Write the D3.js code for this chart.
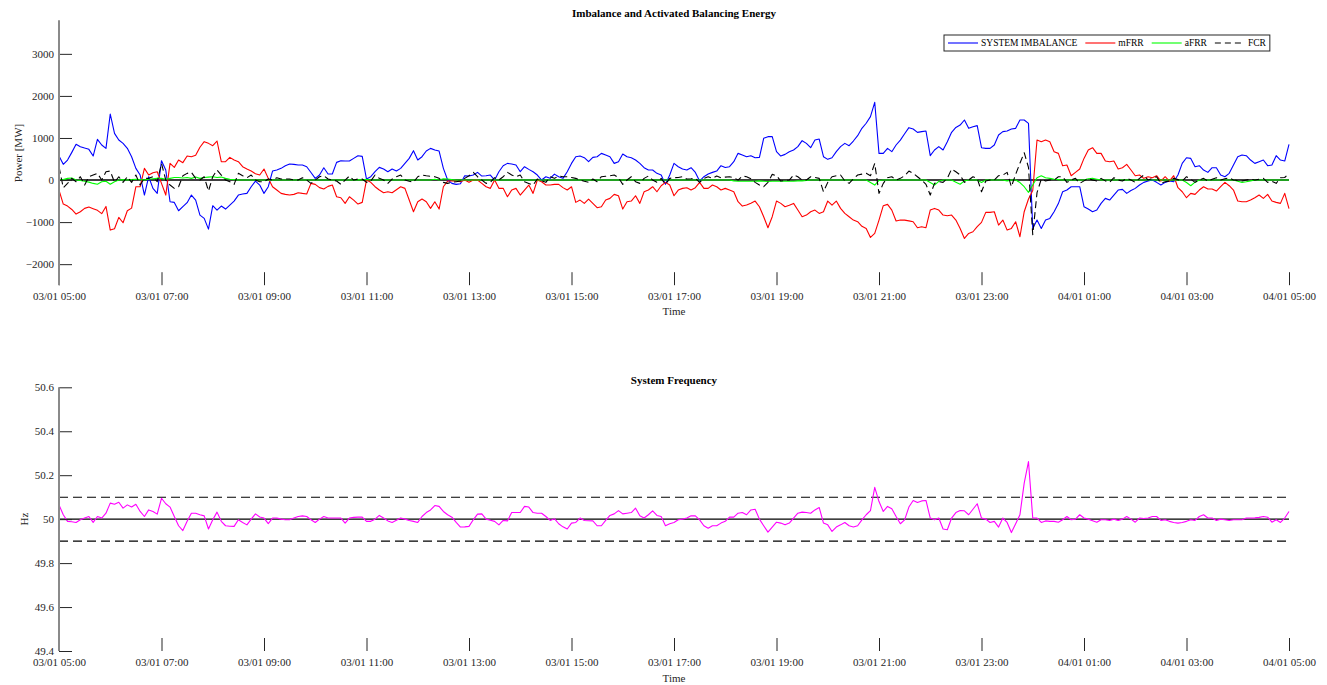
<!DOCTYPE html>
<html>
<head>
<meta charset="utf-8">
<script src="https://cdn.jsdelivr.net/npm/d3@7/dist/d3.min.js"></script>
<style>
  html, body { margin: 0; padding: 0; background: #ffffff; }
  svg text { font-family: "Liberation Serif", "Times New Roman", serif; }
</style>
</head>
<body>
<svg id="chart" width="1327" height="685"></svg>
<script>
// 5-minute samples from 03/01 05:00 to 04/01 05:00 (289 points)
const timeLabels = ["03/01 05:00", "03/01 07:00", "03/01 09:00", "03/01 11:00", "03/01 13:00",
  "03/01 15:00", "03/01 17:00", "03/01 19:00", "03/01 21:00", "03/01 23:00",
  "04/01 01:00", "04/01 03:00", "04/01 05:00"];
const samplesPerLabel = 24;

const powerTicks = [-2000, -1000, 0, 1000, 2000, 3000];
const powerDomain = [-2500, 3800];
const freqTicks = [49.4, 49.6, 49.8, 50, 50.2, 50.4, 50.6];
const freqDomain = [49.4, 50.6];
const freqNominal = 50;
const freqBand = [49.9, 50.1];

const seriesNames = ["SYSTEM IMBALANCE", "mFRR", "aFRR", "FCR"];

// System imbalance [MW]
const imbalance = [
  571, 373, 476, 658, 849, 793, 760, 730, 571, 967, 833, 753,
  1570, 1110, 952, 872, 753, 555, 278, 119, -357, 79, -198, -317,
  460, 238, -515, -531, -730, -634, -539, -357, -476, -833, -912, -1166,
  -610, -714, -618, -690, -595, -500, -357, -333, -317, -159, -24, -119,
  -317, -159, 214, 238, 278, 341, 381, 373, 357, 357, 317, 180,
  40, 119, 293, 143, 143, 420, 460, 452, 452, 515, 579, 563,
  24, 79, 198, 301, 262, 198, 262, 214, 278, 396, 515, 698,
  476, 555, 690, 753, 714, 690, 278, 0, -79, -103, -87, 103,
  95, 119, 182, 95, 103, 119, 0, 198, 341, 396, 381, 357,
  198, 317, 254, 198, 119, 0, 79, 40, 140, 79, 40, 198,
  396, 555, 571, 531, 436, 539, 555, 634, 595, 555, 396, 436,
  619, 555, 531, 476, 396, 293, 238, 238, 159, 119, -103, 119,
  396, 317, 262, 238, 293, 182, -24, 79, 143, 182, 214, 341,
  300, 317, 436, 634, 595, 555, 579, 531, 539, 991, 1031, 1031,
  674, 571, 610, 674, 714, 793, 936, 872, 769, 952, 975, 555,
  492, 531, 674, 793, 872, 817, 928, 1055, 1229, 1350, 1507, 1848,
  634, 634, 753, 674, 833, 950, 1100, 1245, 1213, 1134, 1150, 1166,
  579, 714, 793, 714, 912, 1134, 1250, 1308, 1427, 1229, 1269, 1293,
  769, 753, 753, 833, 1071, 1150, 1166, 1213, 1229, 1427, 1427, 1348,
  -1150, -952, -1150, -952, -912, -753, -560, -278, -238, -159, -159, -159,
  -634, -690, -753, -714, -555, -436, -476, -357, -238, -222, -317, -250,
  -198, -119, -55, -24, 0, -55, -119, -55, -24, -40, 119, 396,
  531, 515, 317, 341, 238, 182, 293, 293, 119, 79, 159, 357,
  555, 595, 579, 476, 396, 436, 476, 341, 357, 579, 476, 452,
  849
];

// Activated mFRR [MW]
const mfrr = [
  -238, -571, -619, -700, -809, -753, -674, -643, -680, -720, -800, -627,
  -1190, -1158, -888, -1015, -730, -667, -159, -159, 278, 119, 175, 198,
  -79, -357, 396, 301, 476, 413, 571, 555, 587, 780, 912, 872,
  817, 928, 436, 436, 539, 476, 436, 317, 262, 214, 150, 119,
  262, 40, -159, -238, -317, -340, -357, -341, -301, -317, -330, -79,
  -103, -180, -214, -150, -119, -397, -420, -555, -397, -476, -571, -531,
  0, -55, -159, -238, -301, -278, -301, -230, -159, -198, -476, -753,
  -515, -452, -515, -674, -515, -690, -159, -24, -24, -24, -40, 0,
  -55, 0, 0, -80, -159, -198, 0, -198, -198, -397, -238, -198,
  -357, -238, -119, -317, 0, -40, -119, -119, -103, -103, -180, -238,
  -159, -531, -476, -555, -452, -555, -658, -634, -476, -436, -341, -373,
  -690, -515, -500, -373, -555, -278, -238, -159, -278, -135, -55, -119,
  -373, -238, -198, -182, -238, -182, -55, -198, -198, -119, -159, -238,
  -198, -238, -278, -515, -619, -595, -550, -500, -634, -872, -1134, -872,
  -500, -555, -634, -600, -555, -714, -872, -833, -753, -714, -793, -753,
  -500, -595, -500, -674, -793, -872, -952, -991, -1100, -1150, -1364, -1269,
  -952, -610, -579, -714, -975, -952, -952, -970, -991, -1134, -1110, -1134,
  -714, -674, -714, -833, -848, -833, -952, -1150, -1388, -1269, -1229, -1110,
  -1007, -769, -769, -753, -1071, -952, -1190, -1150, -991, -1348, -753, -450,
  -250, 952, 912, 952, 912, 674, 634, 341, 357, 103, 182, 262,
  515, 714, 769, 634, 634, 452, 436, 452, 262, 293, 373, 238,
  103, 119, 40, 79, 55, 103, -24, 79, -24, 103, -182, -278,
  -420, -317, -341, -238, -159, -214, -214, -262, -159, -55, -135, -238,
  -500, -515, -515, -476, -420, -357, -436, -341, -500, -531, -555, -317,
  -680
];

// Activated aFRR [MW]
const afrr = [
  0, 10, 40, 50, 0, -10, -30, -50, -80, -100, -40, -30,
  -100, -40, 0, 10, 0, 10, 20, 10, 0, 20, 30, 40,
  40, 20, 40, 60, 60, 50, 60, 40, 70, 40, 60, 70,
  80, 60, 70, 40, 20, 10, 0, 0, 0, 0, 0, 0,
  0, 0, 0, 0, 0, 0, 0, 0, 0, 0, 0, 0,
  0, 0, 0, 0, 0, 0, 0, 0, 0, 0, 10, 0,
  15, 0, 0, 0, 0, 0, 0, 0, 0, 0, 0, 0,
  0, 0, 0, 0, 20, 0, 30, 25, 10, 0, 0, 0,
  0, 0, 0, 0, 0, 0, 0, 0, 0, 0, 0, 0,
  0, 0, 0, 0, 0, 0, 0, 0, 0, 0, 0, 0,
  0, 0, 0, 0, 0, 0, 0, 0, 0, 0, 0, 0,
  0, 0, 0, 0, 0, 0, 0, 0, 0, 0, 0, 0,
  0, 0, 0, 0, 0, 0, 0, 0, 0, 0, 0, 0,
  0, 0, -20, -30, -30, -30, -30, -30, -20, -30, -35, -30,
  -30, -30, -30, -30, -30, -20, -20, -10, 0, 0, 0, 0,
  0, 0, 0, 0, 0, 0, 0, 0, 0, 0, -60, -120,
  -10, 0, 0, 0, 0, 0, 0, 0, 0, 0, 0, 0,
  -60, -119, -30, 0, 0, 0, -50, -100, -20, 0, 0, 0,
  -60, 0, 0, 0, 0, 0, -20, 0, 0, -60, -159, -293,
  -119, 55, 103, 55, 40, 20, 10, 0, 0, 0, 0, 0,
  0, 30, 40, 20, 0, 0, 0, 0, 0, 0, 0, 0,
  0, 0, 0, 0, 0, 0, 0, 0, 0, 0, 0, 0,
  -60, -135, -50, 0, 0, 0, 0, 0, 0, 0, 0, 0,
  -30, -55, -40, -20, 0, 0, 0, 0, 0, 0, 0, 0,
  0
];

// Activated FCR [MW]
const fcr = [
  317, -182, -80, 40, -40, 79, -119, 79, 120, 159, 0, 198,
  214, -55, 79, -55, 79, -55, 119, -119, 40, 40, 79, -40,
  396, 0, -119, -198, -159, 100, 159, 182, 40, 0, 79, -262,
  79, 238, 119, 0, -40, -103, 159, 103, 55, 119, 0, -40,
  -40, 24, 0, 55, 24, 24, 24, 0, 0, 55, 0, -79,
  0, 79, 103, 24, 0, -24, -103, 0, 95, 0, 24, 24,
  -55, -24, 119, 40, 0, -79, 24, 80, 119, 0, -30, -55,
  79, 119, 103, 90, 79, 40, -55, -79, -55, -40, -24, 40,
  100, 182, 79, 0, -79, -55, 55, 0, 79, 182, 120, 79,
  119, -40, -80, -119, 24, -20, -55, 79, 40, 95, 80, 79,
  60, 40, 0, -30, -55, 24, -40, 79, 90, 103, 119, 55,
  -103, 0, 79, -40, -79, 40, 95, 0, -55, 40, -103, 40,
  55, 60, 79, 24, 30, 40, -55, 40, 79, 40, 95, 55,
  70, 79, 55, 0, 95, 79, 30, -55, -119, -159, -55, 135,
  103, -24, -10, 0, 119, 79, 0, 0, 79, 60, 40, -278,
  -55, 79, 100, 119, -20, -79, 30, 119, 140, 159, 103, 396,
  -317, -79, 55, 79, 0, 40, 103, 214, 159, 79, 0, -103,
  -357, -79, -40, -55, 40, 262, 198, 119, -55, 0, 79, 40,
  -278, -24, 0, 0, 103, 119, 182, -159, 135, 400, 650, 300,
  -1300, -300, 24, -24, 0, 0, 79, 79, -55, 0, 40, -79,
  -20, 40, 0, -24, 40, -20, -55, 55, 0, -24, 40, 0,
  -55, 40, 119, 0, 40, 79, -79, -40, -24, 40, 10, -24,
  79, 20, -55, 0, 40, -24, 20, 55, 0, 30, 55, 0,
  -10, -24, 0, 24, 0, 20, 40, -55, -30, -79, 55, 60,
  159
];

// System frequency [Hz]
const frequency = [
  50.065, 50.02, 49.99, 49.988, 49.985, 49.997, 50.005, 50.012, 49.985, 50.012, 50.005, 50.027,
  50.073, 50.068, 50.077, 50.05, 50.065, 50.055, 50.068, 50.035, 50.012, 50.042, 50.035, 50.023,
  50.095, 50.07, 50.055, 50.012, 49.97, 49.948, 49.99, 50.027, 50.027, 50.02, 50.015, 49.955,
  49.997, 50.032, 49.99, 49.97, 49.968, 49.967, 49.997, 49.985, 49.974, 50.0, 50.024, 50.01,
  50.005, 49.98, 50.005, 50.005, 50.0, 49.997, 49.997, 50.005, 50.012, 50.015, 50.012, 49.997,
  49.985, 50.0, 50.012, 50.005, 50.005, 50.005, 50.005, 49.982, 50.005, 50.008, 50.009, 50.009,
  49.99, 49.99, 50.0, 50.017, 50.005, 49.992, 49.985, 49.995, 50.005, 50.0, 49.994, 49.99,
  49.985, 50.012, 50.03, 50.042, 50.062, 50.058, 50.035, 50.02, 50.009, 49.985, 49.964, 49.965,
  49.967, 49.997, 50.023, 50.024, 50.0, 49.995, 49.99, 49.974, 49.994, 49.992, 50.03, 50.03,
  50.03, 50.058, 50.055, 50.03, 50.027, 50.027, 50.012, 49.994, 50.002, 49.979, 49.965, 49.955,
  49.982, 49.985, 50.005, 49.994, 49.993, 49.992, 49.97, 49.97, 49.994, 50.017, 50.024, 50.039,
  50.024, 50.027, 50.03, 50.05, 50.015, 50.005, 50.02, 50.038, 50.017, 50.012, 49.97, 49.979,
  49.985, 49.997, 50.0, 50.005, 50.015, 50.015, 49.997, 49.97, 49.959, 49.97, 49.97, 49.982,
  49.99, 50.009, 50.009, 50.027, 50.03, 50.02, 50.042, 50.045, 50.0, 49.97, 49.941, 49.964,
  49.986, 49.982, 49.974, 49.982, 50.005, 50.027, 50.032, 50.03, 50.027, 50.042, 50.053, 49.982,
  49.974, 49.944, 49.964, 49.974, 49.985, 49.97, 49.964, 49.97, 49.997, 50.02, 50.039, 50.145,
  50.08, 50.035, 50.058, 50.047, 50.012, 49.979, 49.997, 50.055, 50.085, 50.076, 50.083, 50.085,
  50.005, 49.997, 50.005, 49.955, 49.952, 50.005, 50.03, 50.039, 50.038, 50.02, 50.045, 50.07,
  50.005, 50.0, 49.985, 49.99, 49.964, 50.005, 49.985, 49.939, 49.979, 50.02, 50.164, 50.262,
  50.005, 50.005, 49.985, 49.992, 49.99, 49.99, 49.986, 49.997, 50.012, 49.997, 50.0, 50.02,
  50.005, 50.0, 49.993, 49.986, 49.997, 49.997, 49.994, 50.0, 49.994, 50.0, 50.012, 50.0,
  49.986, 50.005, 50.003, 50.005, 50.012, 50.012, 49.994, 49.997, 49.99, 49.985, 49.982, 49.985,
  49.99, 49.997, 49.994, 50.012, 50.02, 50.005, 50.005, 49.994, 50.0, 49.997, 49.994, 49.997,
  49.997, 49.997, 50.005, 50.005, 50.006, 50.008, 50.012, 50.009, 49.986, 49.997, 49.985, 50.005,
  50.035
];

// ---------------------------------------------------------------------------
const svg = d3.select("#chart");
const axisColor = "#262626";
const spineColor = "#8a8a8a";

const x = d3.scaleLinear()
  .domain([0, imbalance.length - 1])
  .range([59, 1289]);
const tickIdx = timeLabels.map((d, i) => i * samplesPerLabel);

function drawAxes(g, y, yTicks, yFormat, bottom, top) {
  // time axis: ticks point into the plot, no baseline
  const xAxis = d3.axisBottom(x)
    .tickValues(tickIdx)
    .tickFormat((d, i) => timeLabels[i])
    .tickSizeInner(-13)
    .tickSizeOuter(0)
    .tickPadding(7);
  const gx = g.append("g").attr("transform", `translate(0,${bottom})`).call(xAxis);
  gx.select(".domain").remove();
  gx.selectAll(".tick line").attr("stroke", axisColor).attr("stroke-width", 1);
  gx.selectAll(".tick text").attr("fill", axisColor).attr("font-size", 11)
    .attr("font-family", "Liberation Serif, serif");

  // value axis
  const yAxis = d3.axisLeft(y)
    .tickValues(yTicks)
    .tickFormat(yFormat)
    .tickSizeInner(-13)
    .tickSizeOuter(0)
    .tickPadding(5);
  const gy = g.append("g").attr("transform", `translate(${x.range()[0]},0)`).call(yAxis);
  gy.select(".domain").remove();
  gy.selectAll(".tick line").attr("stroke", axisColor).attr("stroke-width", 1);
  gy.selectAll(".tick text").attr("fill", axisColor).attr("font-size", 11)
    .attr("font-family", "Liberation Serif, serif");

  g.append("line")
    .attr("x1", x.range()[0]).attr("x2", x.range()[0])
    .attr("y1", top).attr("y2", bottom)
    .attr("stroke", spineColor).attr("stroke-width", 2);
}

function addTitle(text, cx, cy) {
  svg.append("text").attr("x", cx).attr("y", cy)
    .attr("text-anchor", "middle").attr("dominant-baseline", "central")
    .attr("font-size", 11).attr("font-weight", "bold").attr("fill", "#000")
    .text(text);
}
function addLabel(text, cx, cy, rotate) {
  svg.append("text")
    .attr("transform", `translate(${cx},${cy})` + (rotate ? " rotate(-90)" : ""))
    .attr("text-anchor", "middle").attr("dominant-baseline", "central")
    .attr("font-size", 11).attr("fill", axisColor)
    .text(text);
}

const midX = (x.range()[0] + x.range()[1]) / 2;

// ------------------------------- power panel -------------------------------
const yP = d3.scaleLinear().domain(powerDomain).range([285.2, 20.2]);
const gP = svg.append("g");

const lineP = d3.line().x((d, i) => x(i)).y(d => yP(d));

gP.append("line")
  .attr("x1", x.range()[0]).attr("x2", x.range()[1])
  .attr("y1", yP(0)).attr("y2", yP(0))
  .attr("stroke", "#000").attr("stroke-width", 1.6);

const powerSeries = [
  { name: seriesNames[0], values: imbalance, color: "#0000ff", dash: null },
  { name: seriesNames[1], values: mfrr, color: "#ff0000", dash: null },
  { name: seriesNames[2], values: afrr, color: "#00ff00", dash: null },
  { name: seriesNames[3], values: fcr, color: "#000000", dash: "7,4" }
];

powerSeries.forEach(s => {
  gP.append("path")
    .datum(s.values)
    .attr("fill", "none")
    .attr("stroke", s.color)
    .attr("stroke-width", 1.1)
    .attr("stroke-linejoin", "round")
    .attr("stroke-dasharray", s.dash)
    .attr("d", lineP);
});

drawAxes(gP, yP, powerTicks, d3.format("d"), 285.2, 20.2);

addTitle("Imbalance and Activated Balancing Energy", midX, 13);
addLabel("Power [MW]", 18, 153, true);
addLabel("Time", midX, 311, false);

// legend
const legend = svg.append("g");
const legX = 944, legY = 35, legH = 16;
const box = legend.append("rect")
  .attr("x", legX).attr("y", legY).attr("height", legH)
  .attr("fill", "#fff").attr("stroke", axisColor).attr("stroke-width", 1);
let cursor = legX + 4;
powerSeries.forEach((s, i) => {
  legend.append("line")
    .attr("x1", cursor).attr("x2", cursor + 30)
    .attr("y1", legY + legH / 2).attr("y2", legY + legH / 2)
    .attr("stroke", s.color).attr("stroke-width", 1.1)
    .attr("stroke-dasharray", s.dash ? "6,4" : null);
  cursor += 33;
  const t = legend.append("text")
    .attr("x", cursor).attr("y", legY + legH / 2)
    .attr("dominant-baseline", "central")
    .attr("font-size", 9.5).attr("fill", "#000")
    .text(s.name);
  cursor += t.node().getComputedTextLength() + (i < powerSeries.length - 1 ? 8 : 4);
});
box.attr("width", cursor - legX);

// ----------------------------- frequency panel -----------------------------
const yF = d3.scaleLinear().domain(freqDomain).range([651, 387.3]);
const gF = svg.append("g");

[freqBand[0], freqBand[1]].forEach(v => {
  gF.append("line")
    .attr("x1", x.range()[0]).attr("x2", x.range()[1])
    .attr("y1", yF(v)).attr("y2", yF(v))
    .attr("stroke", "#000").attr("stroke-width", 1.1)
    .attr("stroke-dasharray", "9,5");
});
gF.append("line")
  .attr("x1", x.range()[0]).attr("x2", x.range()[1])
  .attr("y1", yF(freqNominal)).attr("y2", yF(freqNominal))
  .attr("stroke", "#000").attr("stroke-width", 1.1);

gF.append("path")
  .datum(frequency)
  .attr("fill", "none")
  .attr("stroke", "#ff00ff")
  .attr("stroke-width", 1.1)
  .attr("stroke-linejoin", "round")
  .attr("d", d3.line().x((d, i) => x(i)).y(d => yF(d)));

drawAxes(gF, yF, freqTicks, d => d3.format("")(+d.toFixed(1)), 651, 387.3);

addTitle("System Frequency", midX, 380);
addLabel("Hz", 24, 519, true);
addLabel("Time", midX, 678, false);
</script>
</body>
</html>
